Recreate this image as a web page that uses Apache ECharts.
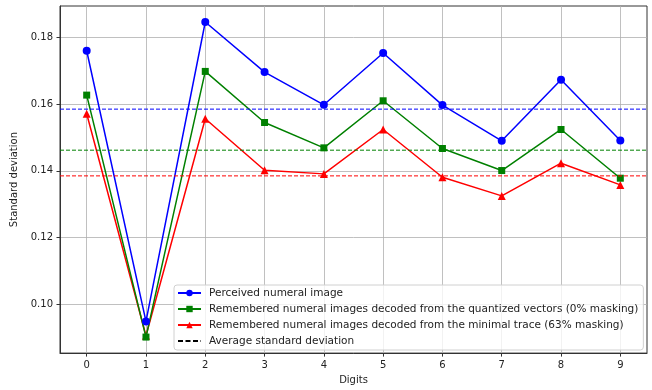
<!DOCTYPE html>
<html>
<head>
<meta charset="utf-8">
<script src="https://cdn.jsdelivr.net/npm/echarts@6/dist/echarts.min.js"></script>
<style>
  html, body { margin: 0; padding: 0; background: #fff; }
  #chart { width: 652px; height: 390px; }
</style>
</head>
<body>
<div id="chart"></div>
<script>
var digits = [0, 1, 2, 3, 4, 5, 6, 7, 8, 9];
var perceived = [0.1760, 0.0949, 0.1846, 0.1696, 0.1598, 0.1753, 0.1597, 0.1490, 0.1673, 0.1491];
var quantized = [0.1627, 0.0902, 0.1698, 0.1545, 0.1469, 0.1610, 0.1467, 0.1401, 0.1524, 0.1378];
var minimal = [0.1571, 0.0906, 0.1556, 0.1402, 0.1391, 0.1524, 0.1381, 0.1325, 0.1423, 0.1358];
var averages = [0.1585, 0.1462, 0.1385];
var yTicks = [0.10, 0.12, 0.14, 0.16, 0.18];
var xRange = [-0.45, 9.45];

var names = [
  'Perceived numeral image',
  'Remembered numeral images decoded from the quantized vectors (0% masking)',
  'Remembered numeral images decoded from the minimal trace (63% masking)',
  'Average standard deviation'
];
var colors = ['#0000ff', '#008000', '#ff0000'];
var symbols = ['circle', 'rect', 'triangle'];
var sizes = [8, 7, 8];
var values = [perceived, quantized, minimal];

function pairs(arr) {
  return digits.map(function (d, i) { return [d, arr[i]]; });
}

var series = values.map(function (v, i) {
  return {
    name: names[i],
    type: 'line',
    data: pairs(v),
    symbol: symbols[i],
    symbolSize: sizes[i],
    color: colors[i],
    lineStyle: { width: 1.5 },
    z: 5 - i
  };
});
averages.forEach(function (a, i) {
  series.push({
    name: 'avg' + i,
    type: 'line',
    data: [[xRange[0], a], [xRange[1], a]],
    symbol: 'none',
    silent: true,
    color: colors[i],
    lineStyle: { type: [4, 2], width: 1, color: colors[i] },
    z: 6
  });
});
series.push({
  name: names[3],
  type: 'line',
  data: [],
  symbol: 'none',
  color: '#000',
  lineStyle: { type: [5, 2.5], width: 1.5, color: '#000' }
});

var chart = echarts.init(document.getElementById('chart'));
chart.setOption({
  animation: false,
  textStyle: { fontFamily: 'DejaVu Sans' },
  grid: { left: 60, right: 5, top: 6, bottom: 35, show: true, borderColor: '#333', borderWidth: 1 },
  xAxis: {
    type: 'value',
    min: xRange[0],
    max: xRange[1],
    name: 'Digits',
    nameLocation: 'middle',
    nameGap: 21,
    nameTextStyle: { fontSize: 10, color: '#222' },
    axisLine: { show: true, onZero: false, lineStyle: { color: '#333' } },
    axisTick: { show: true, length: 3.5, customValues: digits, lineStyle: { color: '#333' } },
    axisLabel: { customValues: digits, margin: 7, fontSize: 10, color: '#222' },
    splitLine: { show: true, lineStyle: { color: '#b0b0b0', width: 0.8 } }
  },
  yAxis: {
    type: 'value',
    min: 0.0854,
    max: 0.1894,
    name: 'Standard deviation',
    nameLocation: 'middle',
    nameRotate: 90,
    nameGap: 30,
    nameTextStyle: { fontSize: 10, color: '#222' },
    axisLine: { show: true, onZero: false, lineStyle: { color: '#333' } },
    axisTick: { show: true, length: 3.5, customValues: yTicks, lineStyle: { color: '#333' } },
    axisLabel: {
      customValues: yTicks, margin: 7, fontSize: 10, color: '#222',
      formatter: function (v) { return v.toFixed(2); }
    },
    splitLine: { show: true, lineStyle: { color: '#b0b0b0', width: 0.8 } }
  },
  legend: {
    orient: 'vertical',
    left: 174,
    top: 285,
    itemWidth: 23,
    itemHeight: 8,
    itemGap: 4,
    padding: [2, 5, 3, 3],
    backgroundColor: 'rgba(255,255,255,0.8)',
    borderColor: '#d0d0d0',
    borderWidth: 1,
    borderRadius: 3,
    textStyle: { fontSize: 10.5, color: '#222', lineHeight: 12, padding: [0, 0, 0, 3] },
    data: [names[0], names[1], names[2], { name: names[3], itemStyle: { opacity: 0 } }]
  },
  series: series
});
</script>
</body>
</html>
